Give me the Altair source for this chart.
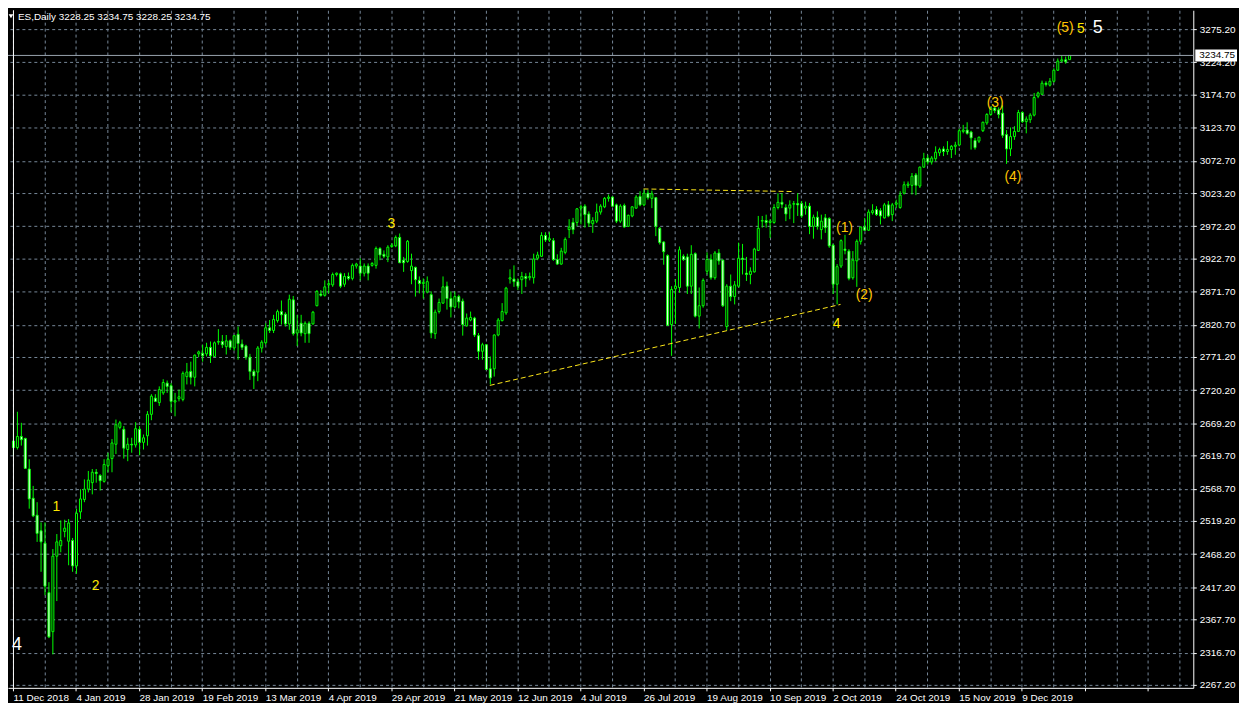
import altair as alt
import pandas as pd

# ---------------- data ----------------
opens = [
    2642, 2632, 2649, 2646, 2599, 2554, 2528, 2504, 2485, 2409,
    2349, 2465, 2481, 2503, 2488, 2489, 2450, 2533, 2552, 2568,
    2578, 2594, 2589, 2580, 2604, 2615, 2637, 2663, 2660, 2629,
    2637, 2636, 2660, 2640, 2650, 2683, 2708, 2701, 2716, 2731,
    2727, 2702, 2707, 2706, 2741, 2749, 2740, 2776, 2777, 2776,
    2786, 2772, 2794, 2795, 2787, 2796, 2785, 2806, 2791, 2788,
    2771, 2749, 2748, 2785, 2793, 2816, 2812, 2827, 2841, 2837,
    2822, 2859, 2808, 2823, 2807, 2823, 2822, 2850, 2868, 2866,
    2882, 2882, 2898, 2899, 2883, 2895, 2892, 2911, 2911, 2900,
    2911, 2912, 2912, 2938, 2929, 2925, 2941, 2942, 2955, 2920,
    2918, 2904, 2909, 2889, 2884, 2871, 2867, 2807, 2841, 2854,
    2880, 2861, 2848, 2864, 2857, 2819, 2828, 2831, 2804, 2780,
    2790, 2753, 2753, 2805, 2827, 2839, 2891, 2891, 2887, 2890,
    2895, 2893, 2893, 2923, 2926, 2958, 2951, 2950, 2921, 2914,
    2932, 2967, 2978, 2978, 3000, 3003, 2991, 2976, 2980, 2994,
    3002, 3015, 3017, 3005, 2980, 3004, 2972, 2988, 3000, 3018,
    3005, 3023, 3015, 3016, 2969, 2948, 2927, 2821, 2876, 2878,
    2926, 2925, 2880, 2930, 2834, 2850, 2903, 2921, 2893, 2931,
    2920, 2818, 2880, 2864, 2880, 2923, 2900, 2898, 2902, 2935,
    2980, 2981, 2978, 2978, 3001, 3009, 3001, 3000, 3006, 3007,
    3007, 3000, 3003, 2972, 2986, 2967, 2985, 2984, 2943, 2883,
    2911, 2937, 2934, 2893, 2919, 2949, 2971, 2966, 2993, 2998,
    2996, 2985, 3005, 2990, 3006, 3001, 3023, 3035, 3035, 3051,
    3034, 3063, 3077, 3071, 3076, 3085, 3091, 3087, 3090, 3095,
    3097, 3118, 3120, 3117, 3104, 3103, 3119, 3131, 3144, 3154,
    3151, 3146, 3113, 3091, 3110, 3118, 3147, 3133, 3136, 3143,
    3172, 3175, 3192, 3189, 3195, 3212, 3226, 3228, 3228.25,
]
highs = [
    2675, 2687, 2670, 2647, 2614, 2573, 2548, 2517, 2517, 2425,
    2476, 2499, 2520, 2521, 2522, 2493, 2538, 2568, 2583, 2596,
    2599, 2599, 2591, 2614, 2624, 2645, 2675, 2673, 2665, 2647,
    2647, 2671, 2665, 2652, 2688, 2714, 2714, 2726, 2737, 2735,
    2731, 2716, 2721, 2749, 2762, 2764, 2775, 2781, 2790, 2793,
    2795, 2795, 2814, 2805, 2805, 2798, 2805, 2818, 2798, 2790,
    2776, 2752, 2788, 2797, 2823, 2828, 2836, 2844, 2858, 2840,
    2867, 2865, 2836, 2836, 2826, 2826, 2842, 2874, 2874, 2889,
    2889, 2901, 2901, 2901, 2900, 2901, 2915, 2916, 2923, 2915,
    2915, 2917, 2941, 2940, 2935, 2943, 2946, 2958, 2961, 2925,
    2951, 2930, 2910, 2895, 2892, 2895, 2872, 2844, 2861, 2895,
    2887, 2872, 2872, 2867, 2861, 2838, 2841, 2833, 2808, 2793,
    2791, 2772, 2806, 2831, 2854, 2879, 2906, 2912, 2892, 2902,
    2900, 2901, 2930, 2933, 2963, 2963, 2963, 2954, 2929, 2939,
    2955, 2983, 2985, 3000, 3005, 3006, 2995, 2986, 3007, 3006,
    3017, 3021, 3018, 3007, 3006, 3007, 2990, 3003, 3020, 3026,
    3029, 3028, 3027, 3017, 2971, 2949, 2929, 2880, 2891, 2941,
    2929, 2930, 2943, 2932, 2878, 2892, 2932, 2929, 2934, 2937,
    2921, 2883, 2898, 2888, 2947, 2945, 2925, 2909, 2939, 2988,
    2988, 2990, 2983, 3006, 3023, 3023, 3006, 3012, 3011, 3023,
    3011, 3010, 3008, 2990, 2995, 2990, 2991, 2986, 2945, 2914,
    2952, 2959, 2937, 2934, 2952, 2972, 2985, 2998, 3006, 3003,
    3000, 3008, 3011, 3008, 3013, 3026, 3041, 3041, 3054, 3054,
    3064, 3085, 3082, 3080, 3095, 3093, 3095, 3103, 3097, 3102,
    3122, 3128, 3132, 3119, 3108, 3110, 3133, 3146, 3156, 3156,
    3155, 3158, 3120, 3124, 3126, 3151, 3149, 3141, 3146, 3177,
    3179, 3196, 3195, 3200, 3215, 3230, 3234, 3233, 3234.75,
]
lows = [
    2619, 2629, 2635, 2599, 2538, 2525, 2487, 2441, 2405, 2339,
    2314, 2396, 2471, 2494, 2451, 2441, 2438, 2522, 2548, 2563,
    2560, 2578, 2566, 2578, 2594, 2594, 2622, 2660, 2615, 2611,
    2624, 2632, 2620, 2629, 2635, 2674, 2702, 2696, 2713, 2716,
    2686, 2680, 2703, 2703, 2729, 2729, 2726, 2771, 2764, 2772,
    2762, 2771, 2790, 2785, 2775, 2782, 2781, 2767, 2782, 2767,
    2736, 2722, 2734, 2778, 2790, 2808, 2808, 2824, 2821, 2818,
    2813, 2804, 2788, 2803, 2793, 2793, 2821, 2849, 2864, 2864,
    2869, 2879, 2895, 2877, 2879, 2889, 2889, 2907, 2889, 2895,
    2889, 2910, 2907, 2920, 2923, 2917, 2939, 2940, 2916, 2902,
    2916, 2883, 2864, 2869, 2861, 2869, 2800, 2799, 2838, 2853,
    2844, 2832, 2846, 2846, 2804, 2818, 2826, 2802, 2767, 2767,
    2752, 2729, 2741, 2803, 2826, 2836, 2884, 2879, 2874, 2868,
    2879, 2889, 2884, 2920, 2925, 2948, 2948, 2919, 2913, 2913,
    2929, 2954, 2960, 2972, 2975, 2970, 2971, 2962, 2977, 2990,
    3000, 3010, 3002, 2977, 2977, 2970, 2971, 2986, 2999, 3003,
    3003, 3013, 3000, 2957, 2944, 2913, 2819, 2773, 2822, 2870,
    2919, 2868, 2868, 2832, 2815, 2847, 2898, 2890, 2890, 2913,
    2848, 2812, 2857, 2852, 2878, 2898, 2888, 2883, 2901, 2934,
    2970, 2970, 2954, 2976, 2998, 3000, 2980, 2983, 2977, 2988,
    2985, 2990, 2960, 2953, 2967, 2952, 2962, 2939, 2868, 2852,
    2908, 2929, 2889, 2890, 2879, 2944, 2965, 2965, 2990, 2988,
    2975, 2984, 2986, 2980, 3000, 2999, 3021, 3031, 3021, 3020,
    3031, 3062, 3067, 3067, 3072, 3080, 3080, 3082, 3077, 3082,
    3095, 3115, 3113, 3090, 3090, 3100, 3117, 3128, 3142, 3146,
    3138, 3108, 3068, 3080, 3105, 3117, 3131, 3115, 3131, 3141,
    3169, 3174, 3187, 3187, 3193, 3211, 3224, 3222, 3228.25,
]
closes = [
    2632, 2649, 2644, 2600, 2553, 2527, 2500, 2487, 2419, 2341,
    2465, 2487, 2489, 2508, 2516, 2450, 2531, 2553, 2568, 2582,
    2594, 2592, 2581, 2606, 2614, 2639, 2667, 2670, 2631, 2637,
    2636, 2661, 2640, 2647, 2683, 2711, 2703, 2721, 2732, 2726,
    2703, 2704, 2710, 2746, 2748, 2740, 2774, 2779, 2773, 2786,
    2773, 2793, 2795, 2790, 2796, 2786, 2804, 2792, 2786, 2771,
    2749, 2742, 2785, 2794, 2816, 2812, 2829, 2841, 2836, 2822,
    2860, 2807, 2813, 2808, 2823, 2807, 2840, 2872, 2866, 2879,
    2884, 2898, 2900, 2880, 2895, 2892, 2912, 2914, 2900, 2911,
    2900, 2915, 2938, 2928, 2926, 2940, 2943, 2955, 2916, 2916,
    2949, 2911, 2890, 2884, 2886, 2887, 2808, 2840, 2855, 2879,
    2861, 2848, 2864, 2856, 2821, 2831, 2832, 2805, 2780, 2790,
    2752, 2739, 2805, 2828, 2841, 2877, 2893, 2887, 2880, 2895,
    2892, 2895, 2922, 2928, 2958, 2951, 2953, 2921, 2914, 2934,
    2952, 2971, 2967, 2999, 3002, 2990, 2977, 2981, 2994, 3003,
    3015, 3017, 3003, 2980, 3003, 2971, 2989, 3002, 3017, 3005,
    3023, 3016, 3022, 2972, 2947, 2933, 2820, 2875, 2880, 2936,
    2921, 2880, 2929, 2834, 2850, 2889, 2921, 2893, 2931, 2919,
    2850, 2880, 2864, 2882, 2923, 2921, 2898, 2903, 2937, 2969,
    2981, 2978, 2980, 3001, 3009, 3006, 2991, 3005, 3007, 3005,
    2988, 3003, 2972, 2986, 2972, 2980, 2970, 2942, 2883, 2910,
    2950, 2935, 2892, 2920, 2949, 2971, 2966, 2994, 2996, 2990,
    2988, 3005, 2988, 3005, 3008, 3020, 3036, 3037, 3049, 3035,
    3063, 3076, 3071, 3077, 3086, 3090, 3087, 3090, 3095, 3097,
    3119, 3120, 3115, 3108, 3093, 3109, 3132, 3144, 3154, 3150,
    3144, 3112, 3091, 3110, 3118, 3147, 3133, 3137, 3143, 3170,
    3177, 3192, 3190, 3195, 3212, 3226, 3228, 3225, 3234.75,
]

date_labels = [
    "11 Dec 2018", "4 Jan 2019", "28 Jan 2019", "19 Feb 2019", "13 Mar 2019",
    "4 Apr 2019", "29 Apr 2019", "21 May 2019", "12 Jun 2019", "4 Jul 2019",
    "26 Jul 2019", "19 Aug 2019", "10 Sep 2019", "2 Oct 2019", "24 Oct 2019",
    "15 Nov 2019", "9 Dec 2019",
]
label_step = 16          # bars between two date labels
grid_step = 8            # bars between two vertical grid lines

y_ticks = [2267.2, 2316.7, 2367.7, 2417.2, 2468.2, 2519.2, 2568.7, 2619.7,
           2669.2, 2720.2, 2771.2, 2820.7, 2871.7, 2922.7, 2972.2, 3023.2,
           3072.7, 3123.7, 3174.7, 3224.2, 3275.2]

bid_price = 3234.75
header_text = "ES,Daily  3228.25 3234.75 3228.25 3234.75"

minor_labels = ["1", "2", "3", "4", "5"]
minor_idx = [11, 21, 96, 209, 271]
minor_price = [2540.6, 2418.4, 2975.9, 2821.6, 3275.2]

paren_labels = ["(1)", "(2)", "(3)", "(4)", "(5)"]
paren_idx = [211, 216, 249.25, 253.75, 267]
paren_price = [2969.7, 2865.9, 3162.2, 3047.6, 3276.7]

white_labels = ["4", "5"]
white_idx = [1, 275.25]
white_price = [2328.3, 3276.7]

top_line_idx = [160, 198]
top_line_price = [3029.5, 3025.5]
low_line_idx = [121, 210]
low_line_price = [2727.5, 2852.0]

# ---------------- chart ----------------
W, H = 1193, 682
X_DOMAIN = [0, 298.25]
Y_DOMAIN = [2262.6, 3304.2]
GRID = "#778899"
LIME = "#00FF00"
FONT = "Liberation Sans"

df = pd.DataFrame({"idx": list(range(len(opens))), "open": opens, "high": highs,
                   "low": lows, "close": closes})

xs = alt.Scale(domain=X_DOMAIN, nice=False, zero=False)
ys = alt.Scale(domain=Y_DOMAIN, nice=False, zero=False)

arr = "[" + ",".join("'" + s + "'" for s in date_labels) + "]"
label_expr = (f"(datum.value % {label_step} == 0 && datum.value / {label_step} < {len(date_labels)})"
              f" ? {arr}[datum.value / {label_step}] : ''")

x_axis = alt.Axis(
    values=list(range(0, int(X_DOMAIN[1]) + 1, grid_step)), labelExpr=label_expr,
    grid=True, gridColor=GRID, gridDash=[3, 3], gridOpacity=1,
    domainColor="white", tickColor="white", tickSize=3,
    tickOpacity={"condition": {"test": f"datum.value % {label_step} == 0", "value": 1}, "value": 0},
    labelColor="white", labelFont=FONT, labelFontSize=10, labelAlign="left",
    labelBaseline="top", labelPadding=2, labelOverlap=False, labelFlush=False,
    title=None,
)
y_axis = alt.Axis(
    orient="right", values=y_ticks, format=".2f",
    grid=True, gridColor=GRID, gridDash=[3, 3], gridOpacity=1,
    domainColor="white", tickColor="white", tickSize=3,
    labelColor="white", labelFont=FONT, labelFontSize=10, labelPadding=3,
    labelOverlap=False, title=None,
)


def X(f):
    return alt.X(f"{f}:Q", scale=xs, axis=x_axis)


def Y(f):
    return alt.Y(f"{f}:Q", scale=ys, axis=y_axis)


wicks = alt.Chart(df).mark_rule(color=LIME, strokeWidth=1, xOffset=0.5).encode(
    x=X("idx"), y=Y("low"), y2="high:Q")

bodies = alt.Chart(df).mark_bar(width=2, stroke=LIME, strokeWidth=1, xOffset=0.5).encode(
    x=X("idx"), y=Y("open"), y2="close:Q",
    fill=alt.condition("datum.open > datum.close", alt.value("white"), alt.value("black")))

top_df = pd.DataFrame({"idx": top_line_idx, "price": top_line_price})
low_df = pd.DataFrame({"idx": low_line_idx, "price": low_line_price})
tline = alt.Chart(top_df).mark_line(color="#FFE81A", strokeDash=[5, 3], strokeWidth=1).encode(
    x=X("idx"), y=Y("price"))
lline = alt.Chart(low_df).mark_line(color="#FFE81A", strokeDash=[5, 3], strokeWidth=1).encode(
    x=X("idx"), y=Y("price"))

bid_df = pd.DataFrame({"price": [bid_price], "label": [f"{bid_price:.2f}"]})
bid_line = alt.Chart(bid_df).mark_rule(color="#9AA4AE", strokeWidth=1).encode(y=Y("price"))
bid_box = alt.Chart(bid_df).mark_rect(color="white", yOffset=-6, y2Offset=6).encode(
    x=alt.value(W + 2), x2=alt.value(W + 44), y=Y("price"), y2="price:Q")
bid_txt = alt.Chart(bid_df).mark_text(align="left", baseline="middle", color="black",
                                      font=FONT, fontSize=10).encode(
    x=alt.value(W + 6), y=Y("price"), text="label:N")

minor_df = pd.DataFrame({"idx": minor_idx, "price": minor_price, "t": minor_labels})
paren_df = pd.DataFrame({"idx": paren_idx, "price": paren_price, "t": paren_labels})
white_df = pd.DataFrame({"idx": white_idx, "price": white_price, "t": white_labels})

minor_txt = alt.Chart(minor_df).mark_text(color="#FFE800", font=FONT, fontSize=14,
                                          align="center", baseline="middle").encode(
    x=X("idx"), y=Y("price"), text="t:N")
paren_txt = alt.Chart(paren_df).mark_text(color="#FFC400", font=FONT, fontSize=14,
                                          align="center", baseline="middle").encode(
    x=X("idx"), y=Y("price"), text="t:N")
white_txt = alt.Chart(white_df).mark_text(color="white", font=FONT, fontSize=18,
                                          align="center", baseline="middle").encode(
    x=X("idx"), y=Y("price"), text="t:N")

hdr_df = pd.DataFrame({"t": [header_text]})
header = alt.Chart(hdr_df).mark_text(align="left", baseline="top", color="white",
                                     font=FONT, fontSize=10).encode(
    x=alt.value(10), y=alt.value(2), text="t:N")
tri = alt.Chart(hdr_df).mark_point(shape="triangle-down", filled=True, color="white",
                                   size=22, opacity=1).encode(x=alt.value(3), y=alt.value(6))

left_border = alt.Chart(pd.DataFrame({"idx": [X_DOMAIN[0]]})).mark_rule(
    color="white", strokeWidth=1, xOffset=0.5).encode(x=X("idx"))

chart = alt.layer(
    wicks, bodies, tline, lline, bid_line, minor_txt, paren_txt, white_txt,
    bid_box, bid_txt, header, tri, left_border,
).properties(
    width=W, height=H,
    autosize=alt.AutoSizeParams(type="none"),
    padding={"left": 0, "top": 0, "right": 46, "bottom": 13},
    background="black",
).configure_view(stroke=None)

chart.save("out.html", embed_options={"renderer": "svg", "actions": False})
